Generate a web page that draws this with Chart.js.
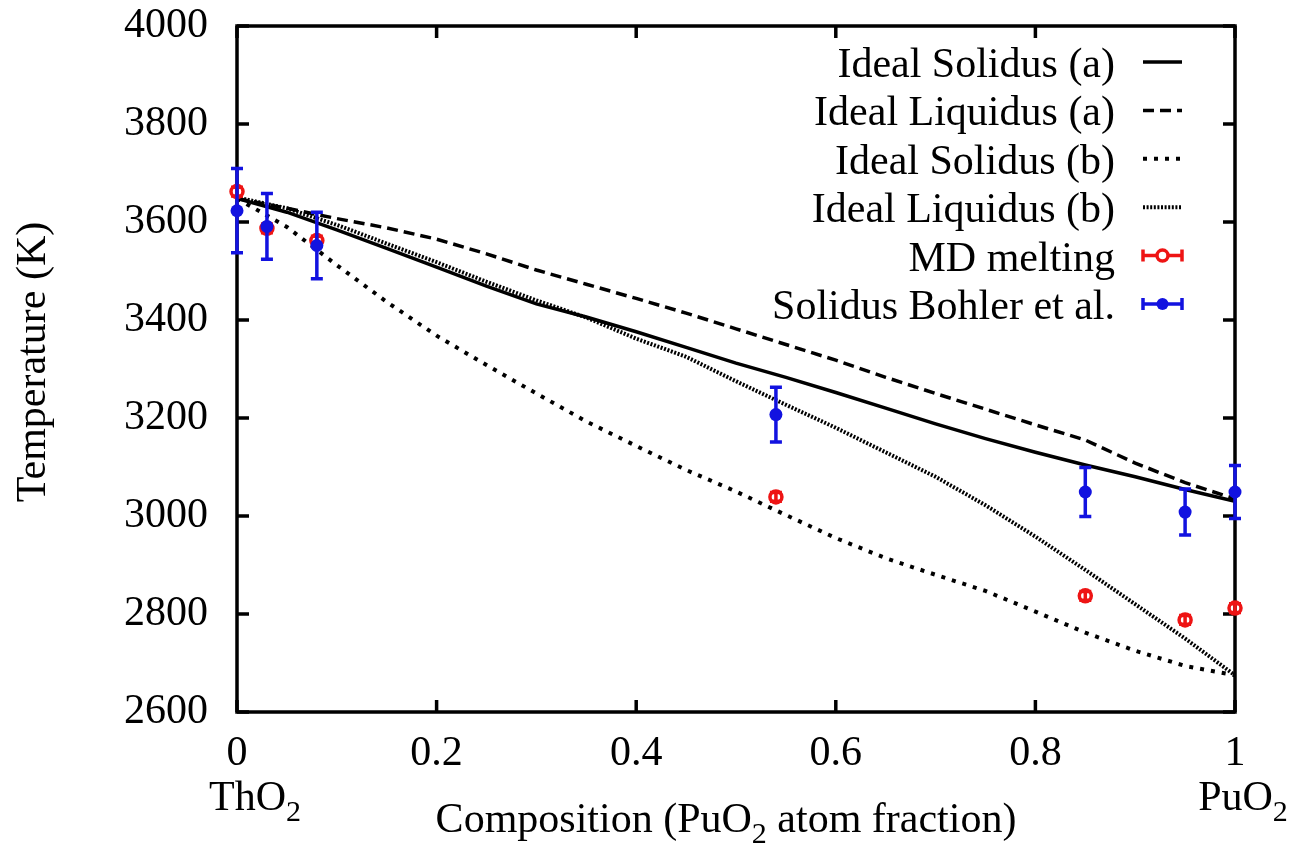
<!DOCTYPE html>
<html>
<head>
<meta charset="utf-8">
<script src="https://cdn.jsdelivr.net/npm/chart.js@4/dist/chart.umd.min.js"></script>
<style>
  html, body { margin: 0; padding: 0; background: #fff; }
  #wrap { width: 1294px; height: 843px; }
</style>
</head>
<body>
<div id="wrap"><canvas id="chart"></canvas></div>
<script>
// composition grid for the computed curves
const composition = [0, 0.05, 0.1, 0.15, 0.2, 0.25, 0.3, 0.35, 0.4, 0.45, 0.5,
    0.55, 0.6, 0.65, 0.7, 0.75, 0.8, 0.85, 0.9, 0.95, 1.0]
const solidusA = [3648, 3620, 3584, 3546, 3508, 3469, 3433, 3406, 3376, 3344, 3312,
    3283, 3252, 3220, 3188, 3158, 3130, 3104, 3080, 3054, 3030]
const liquidusA = [3648, 3628, 3607, 3588, 3565, 3535, 3502, 3473, 3444, 3414, 3382,
    3350, 3318, 3283, 3250, 3218, 3186, 3155, 3108, 3068, 3035]
const solidusB = [3648, 3590, 3512, 3437, 3368, 3308, 3250, 3193, 3143, 3094, 3050,
    3002, 2955, 2914, 2880, 2847, 2805, 2762, 2725, 2694, 2675]
const liquidusB = [3650, 3628, 3594, 3556, 3518, 3478, 3440, 3405, 3362, 3325, 3275,
    3227, 3180, 3130, 3080, 3022, 2958, 2890, 2820, 2750, 2675]

// MD melting points
const mdX = [0, 0.03, 0.08, 0.54, 0.85, 0.95, 1.0]
const mdT = [3662, 3587, 3562, 3039, 2837, 2788, 2812]
const mdErr = [9, 9, 9, 9, 9, 9, 9]

// Bohler et al. solidus
const bohlerX = [0, 0.03, 0.08, 0.54, 0.85, 0.95, 1.0]
const bohlerT = [3623, 3591, 3552, 3207, 3049, 3008, 3049]
const bohlerErr = [86, 67, 68, 56, 50, 47, 54]

const xTickLabels = ['0', '0.2', '0.4', '0.6', '0.8', '1']
const yTickLabels = ['2600', '2800', '3000', '3200', '3400', '3600', '3800', '4000']

const seriesNames = ['Ideal Solidus (a)', 'Ideal Liquidus (a)', 'Ideal Solidus (b)',
    'Ideal Liquidus (b)', 'MD melting', 'Solidus Bohler et al.']

const RED = '#ee1414'
const BLUE = '#1212e0'
const FONT = '"Liberation Serif", "Times New Roman", serif'
const FSIZE = 42

const toXY = (xs, ys) => xs.map((x, i) => ({ x, y: ys[i] }))

const lineStyles = [
    { dash: [], width: 3.5 },
    { dash: [11, 6], width: 3.5 },
    { dash: [4, 7], width: 4 },
    { dash: [2, 1.6], width: 4 }
]

const curveData = [solidusA, liquidusA, solidusB, liquidusB]

const datasets = [
    {
        label: seriesNames[5],
        data: toXY(bohlerX, bohlerT),
        err: bohlerErr,
        errColor: BLUE,
        capW: 12,
        showLine: false,
        pointRadius: 6.5,
        pointBackgroundColor: BLUE,
        pointBorderColor: BLUE,
        pointBorderWidth: 0,
        clip: false,
        order: 0
    },
    {
        label: seriesNames[4],
        data: toXY(mdX, mdT),
        err: mdErr,
        errColor: RED,
        capW: 12,
        showLine: false,
        pointRadius: 6,
        pointBackgroundColor: 'rgba(255,255,255,0)',
        pointBorderColor: RED,
        pointBorderWidth: 3.5,
        clip: false,
        order: 1
    }
]

curveData.forEach((vals, i) => {
    datasets.push({
        label: seriesNames[i],
        data: toXY(composition, vals),
        showLine: true,
        borderColor: '#000',
        borderWidth: lineStyles[i].width,
        borderDash: lineStyles[i].dash,
        pointRadius: 0,
        tension: 0,
        fill: false,
        order: 2 + i
    })
})

// vertical error bars, drawn under each scatter set
const errorBars = {
    id: 'errorBars',
    beforeDatasetDraw(chart, args) {
        const ds = chart.data.datasets[args.index]
        if (!ds.err) return
        const { ctx, scales: { x, y } } = chart
        ctx.save()
        ctx.strokeStyle = ds.errColor
        ctx.lineWidth = 3.5
        ctx.setLineDash([])
        ds.data.forEach((p, i) => {
            const px = x.getPixelForValue(p.x)
            const y1 = y.getPixelForValue(p.y + ds.err[i])
            const y2 = y.getPixelForValue(p.y - ds.err[i])
            const hw = ds.capW / 2
            ctx.beginPath()
            ctx.moveTo(px, y1); ctx.lineTo(px, y2)
            ctx.moveTo(px - hw, y1); ctx.lineTo(px + hw, y1)
            ctx.moveTo(px - hw, y2); ctx.lineTo(px + hw, y2)
            ctx.stroke()
        })
        ctx.restore()
    }
}

// gnuplot style frame with inward ticks, titles and key
const decorations = {
    id: 'decorations',
    beforeDatasetsDraw(chart) {
        const { ctx, chartArea: a, scales: { x, y } } = chart
        ctx.save()
        ctx.strokeStyle = '#000'
        ctx.lineWidth = 3.5
        ctx.setLineDash([])
        ctx.strokeRect(a.left, a.top, a.right - a.left, a.bottom - a.top)

        const tl = 12
        ctx.beginPath()
        x.ticks.forEach(t => {
            const px = x.getPixelForValue(t.value)
            ctx.moveTo(px, a.bottom); ctx.lineTo(px, a.bottom - tl)
            ctx.moveTo(px, a.top); ctx.lineTo(px, a.top + tl)
        })
        y.ticks.forEach(t => {
            const py = y.getPixelForValue(t.value)
            ctx.moveTo(a.left, py); ctx.lineTo(a.left + tl, py)
            ctx.moveTo(a.right, py); ctx.lineTo(a.right - tl, py)
        })
        ctx.stroke()
        ctx.restore()
    },
    afterDraw(chart) {
        const { ctx, scales: { x } } = chart
        ctx.save()
        ctx.fillStyle = '#000'
        const font = sz => `${sz}px ${FONT}`

        // text with a subscript 2 after a chunk
        const subText = (parts, cx, base) => {
            const widths = parts.map(p => {
                ctx.font = font(p.sub ? 30 : FSIZE)
                return ctx.measureText(p.t).width
            })
            let xx = cx - widths.reduce((s, w) => s + w, 0) / 2
            ctx.textAlign = 'left'
            ctx.textBaseline = 'alphabetic'
            parts.forEach((p, i) => {
                ctx.font = font(p.sub ? 30 : FSIZE)
                ctx.fillText(p.t, xx, base + (p.sub ? 11 : 0))
                xx += widths[i]
            })
        }

        subText([{ t: 'ThO' }, { t: '2', sub: true }], x.getPixelForValue(0) + 18, 810)
        subText([{ t: 'PuO' }, { t: '2', sub: true }], x.getPixelForValue(1) + 8, 810)
        subText([{ t: 'Composition (PuO' }, { t: '2', sub: true },
            { t: ' atom fraction)' }], 726, 832)

        // y title
        ctx.save()
        ctx.translate(45, 362)
        ctx.rotate(-Math.PI / 2)
        ctx.font = font(FSIZE)
        ctx.textAlign = 'center'
        ctx.textBaseline = 'alphabetic'
        ctx.fillText('Temperature (K)', 0, 0)
        ctx.restore()

        // key
        const textRight = 1115
        const s0 = 1143, s1 = 1182
        const rowY = i => 62 + i * 48.4
        ctx.font = font(FSIZE)
        ctx.textAlign = 'right'
        ctx.textBaseline = 'alphabetic'
        seriesNames.forEach((name, i) => {
            const cy = rowY(i)
            ctx.fillStyle = '#000'
            ctx.fillText(name, textRight, cy + 15)
            if (i < 4) {
                ctx.strokeStyle = '#000'
                ctx.lineWidth = lineStyles[i].width
                ctx.setLineDash(lineStyles[i].dash)
                ctx.beginPath()
                ctx.moveTo(s0, cy); ctx.lineTo(s1, cy)
                ctx.stroke()
            } else {
                const col = i === 4 ? RED : BLUE
                ctx.setLineDash([])
                ctx.strokeStyle = col
                ctx.lineWidth = 3.5
                ctx.beginPath()
                ctx.moveTo(s0, cy); ctx.lineTo(s1, cy)
                ctx.moveTo(s0, cy - 6); ctx.lineTo(s0, cy + 6)
                ctx.moveTo(s1, cy - 6); ctx.lineTo(s1, cy + 6)
                ctx.stroke()
                const mx = (s0 + s1) / 2
                ctx.beginPath()
                if (i === 4) {
                    ctx.fillStyle = '#fff'
                    ctx.arc(mx, cy, 5.5, 0, Math.PI * 2)
                    ctx.fill()
                    ctx.stroke()
                } else {
                    ctx.fillStyle = col
                    ctx.arc(mx, cy, 6, 0, Math.PI * 2)
                    ctx.fill()
                }
            }
        })
        ctx.restore()
    }
}

new Chart(document.getElementById('chart'), {
    type: 'scatter',
    data: { datasets },
    options: {
        responsive: true,
        maintainAspectRatio: false,
        animation: false,
        layout: { padding: { left: 0, right: 59, top: 26, bottom: 0 } },
        plugins: {
            legend: { display: false },
            tooltip: { enabled: false }
        },
        scales: {
            x: {
                type: 'linear',
                min: 0,
                max: 1,
                afterFit: axis => {
                    axis.height = 131
                    axis.paddingLeft = 0
                    axis.paddingRight = 0
                },
                afterBuildTicks: axis => {
                    axis.ticks = xTickLabels.map(v => ({ value: parseFloat(v) }))
                },
                grid: { display: false, drawTicks: false },
                border: { display: false },
                ticks: {
                    padding: 17,
                    color: '#000',
                    font: { family: FONT, size: FSIZE },
                    maxRotation: 0,
                    autoSkip: false,
                    callback: v => xTickLabels.find(l => parseFloat(l) === v)
                }
            },
            y: {
                min: 2600,
                max: 4000,
                afterFit: axis => {
                    axis.width = 237
                    axis.paddingTop = 0
                    axis.paddingBottom = 0
                },
                afterBuildTicks: axis => {
                    axis.ticks = yTickLabels.map(v => ({ value: Number(v) }))
                },
                grid: { display: false, drawTicks: false },
                border: { display: false },
                ticks: {
                    padding: 29,
                    color: '#000',
                    font: { family: FONT, size: FSIZE },
                    autoSkip: false,
                    callback: v => String(v)
                }
            }
        }
    },
    plugins: [errorBars, decorations]
})
</script>
</body>
</html>
